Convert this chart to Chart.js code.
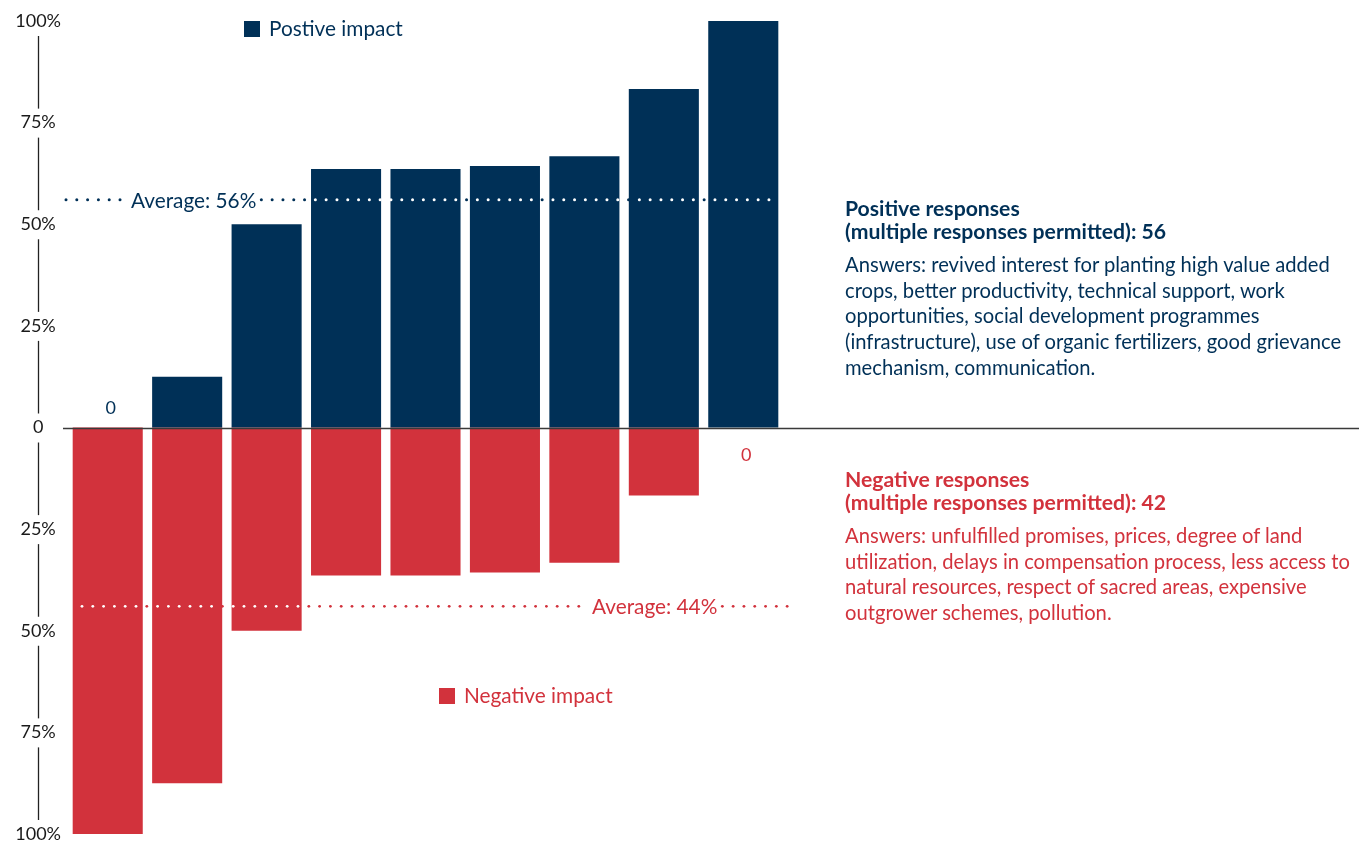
<!DOCTYPE html>
<html>
<head>
<meta charset="utf-8">
<script src="https://cdn.jsdelivr.net/npm/chart.js@4"></script>
<style>
  html, body { margin: 0; padding: 0; background: #fff; }
  body { width: 1359px; height: 842px; position: relative; overflow: hidden; font-family: Lato, "Open Sans", sans-serif; }
  #wrap { position: absolute; left: 0; top: 0; width: 1359px; height: 842px; }
  .legend { position: absolute; font-size: 20.8px; line-height: 22px; white-space: nowrap; }
  .legend .sw { display: inline-block; width: 16px; height: 16px; vertical-align: -1px; margin-right: 9px; }
  .note { position: absolute; left: 845px; white-space: nowrap; }
  .note .head { font-weight: 700; font-size: 21.2px; line-height: 23px; }
  .note .body { font-size: 20.2px; line-height: 25.7px; margin-top: 9px; }
  .pos { color: #003057; }
  .neg { color: #d2323c; }
</style>
</head>
<body>
<div id="wrap"><canvas id="c" width="1359" height="842"></canvas></div>

<div class="legend pos" style="left:244px; top:17px;"><span class="sw" style="background:#003057"></span>Postive impact</div>
<div class="legend neg" style="left:439px; top:684px;"><span class="sw" style="background:#d2323c"></span>Negative impact</div>

<div class="note pos" style="top:197px;">
  <div class="head">Positive responses<br>(multiple responses permitted): 56</div>
  <div class="body">Answers: revived interest for planting high value added<br>crops, better productivity, technical support, work<br>opportunities, social development programmes<br>(infrastructure), use of organic fertilizers, good grievance<br>mechanism, communication.</div>
</div>
<div class="note neg" style="top:468px;">
  <div class="head">Negative responses<br>(multiple responses permitted): 42</div>
  <div class="body">Answers: unfulfilled promises, prices, degree of land<br>utilization, delays in compensation process, less access to<br>natural resources, respect of sacred areas, expensive<br>outgrower schemes, pollution.</div>
</div>

<script>
// Share of respondents per group reporting positive / negative impact (%)
const categories = ['1', '2', '3', '4', '5', '6', '7', '8', '9'];
const positiveImpact = [0, 12.5, 50, 63.6, 63.6, 64.3, 66.7, 83.3, 100];
const negativeImpact = [100, 87.5, 50, 36.4, 36.4, 35.7, 33.3, 16.7, 0];
const positiveAverage = 56;
const negativeAverage = 44;
const tickValues = [-100, -75, -50, -25, 0, 25, 50, 75, 100];

const NAVY = '#003057';
const RED = '#d2323c';
const FONT = 'Lato, "Open Sans", sans-serif';

// Vertical axis drawn as short segments between the tick labels,
// plus a baseline at zero that runs across the full width.
const axisDecor = {
  id: 'axisDecor',
  afterDatasetsDraw(chart) {
    const { ctx } = chart;
    const y = chart.scales.y;
    const x0 = 38.5;
    ctx.save();
    ctx.strokeStyle = '#222';
    ctx.lineWidth = 1.3;
    for (let i = 0; i < tickValues.length - 1; i++) {
      const a = y.getPixelForValue(tickValues[i + 1]);
      const b = y.getPixelForValue(tickValues[i]);
      ctx.beginPath();
      ctx.moveTo(x0, a + 15);
      ctx.lineTo(x0, b - 14);
      ctx.stroke();
    }
    const zy = Math.round(y.getPixelForValue(0)) + 0.5;
    ctx.strokeStyle = '#3a3a3a';
    ctx.lineWidth = 1.3;
    ctx.beginPath();
    ctx.moveTo(63, zy);
    ctx.lineTo(chart.width, zy);
    ctx.stroke();
    ctx.restore();
  }
};

// Dotted average lines with inline labels; dots turn white over bars.
const averageLines = {
  id: 'averageLines',
  afterDatasetsDraw(chart) {
    const { ctx } = chart;
    const y = chart.scales.y;
    const rects = [];
    chart.data.datasets.forEach((ds, di) => {
      chart.getDatasetMeta(di).data.forEach(el => {
        const p = el.getProps(['x', 'y', 'base', 'width'], true);
        rects.push({ l: p.x - p.width / 2, r: p.x + p.width / 2, t: Math.min(p.y, p.base), b: Math.max(p.y, p.base) });
      });
    });
    const onBar = (px, py) => rects.some(r => px >= r.l && px <= r.r && py >= r.t && py <= r.b);
    const lines = [
      { v: positiveAverage, text: 'Average: ' + positiveAverage + '%', color: NAVY, from: 66, to: 775, labelX: 131, r: 1.5 },
      { v: -negativeAverage, text: 'Average: ' + negativeAverage + '%', color: RED, from: 82, to: 790, labelX: 592, r: 1.4 }
    ];
    const step = 10.8;
    ctx.save();
    ctx.font = '20.8px ' + FONT;
    ctx.textBaseline = 'middle';
    lines.forEach(L => {
      const py = y.getPixelForValue(L.v);
      const tw = ctx.measureText(L.text).width;
      const dot = px => {
        ctx.fillStyle = onBar(px, py) ? '#ffffff' : L.color;
        ctx.beginPath();
        ctx.arc(px, py, L.r, 0, Math.PI * 2);
        ctx.fill();
      };
      for (let px = L.from; px <= L.labelX - 8; px += step) dot(px);
      for (let px = L.labelX + tw + 5; px <= L.to; px += step) dot(px);
      ctx.fillStyle = L.color;
      ctx.textAlign = 'left';
      ctx.fillText(L.text, L.labelX, py + 1);
    });
    ctx.restore();
  }
};

// Value labels for groups with a zero share.
const zeroLabels = {
  id: 'zeroLabels',
  afterDatasetsDraw(chart) {
    const { ctx } = chart;
    const y = chart.scales.y;
    const zy = y.getPixelForValue(0);
    ctx.save();
    ctx.font = '18px ' + FONT;
    ctx.textAlign = 'center';
    ctx.textBaseline = 'middle';
    chart.data.datasets.forEach((ds, di) => {
      const meta = chart.getDatasetMeta(di);
      ds.data.forEach((v, i) => {
        if (v !== 0) return;
        const el = meta.data[i];
        const isNeg = di === 1;
        ctx.fillStyle = isNeg ? RED : NAVY;
        ctx.fillText(String(Math.abs(v)), el.x + 3, isNeg ? zy + 28 : zy - 19);
      });
    });
    ctx.restore();
  }
};

new Chart(document.getElementById('c'), {
  type: 'bar',
  data: {
    labels: categories,
    datasets: [
      { label: 'Postive impact', data: positiveImpact, backgroundColor: NAVY },
      { label: 'Negative impact', data: negativeImpact.map(v => v === 0 ? 0 : -v), backgroundColor: RED }
    ]
  },
  options: {
    responsive: false,
    animation: false,
    devicePixelRatio: 1,
    layout: { padding: { left: 0, right: 576, top: 21, bottom: 8 } },
    datasets: { bar: { barPercentage: 0.882, categoryPercentage: 1 } },
    plugins: { legend: { display: false }, tooltip: { enabled: false } },
    scales: {
      x: { stacked: true, display: false },
      y: {
        stacked: true,
        min: -100,
        max: 100,
        afterFit: s => { s.width = 68; s.paddingTop = 0; s.paddingBottom = 0; },
        afterBuildTicks: s => { s.ticks = tickValues.map(v => ({ value: v })); },
        grid: { display: false, drawTicks: false },
        border: { display: false },
        ticks: {
          crossAlign: 'center',
          padding: 7,
          color: '#1a1a1a',
          font: { family: FONT, size: 18 },
          callback: v => v === 0 ? '0' : Math.abs(v) + '%'
        }
      }
    }
  },
  plugins: [axisDecor, averageLines, zeroLabels]
});
</script>
</body>
</html>
